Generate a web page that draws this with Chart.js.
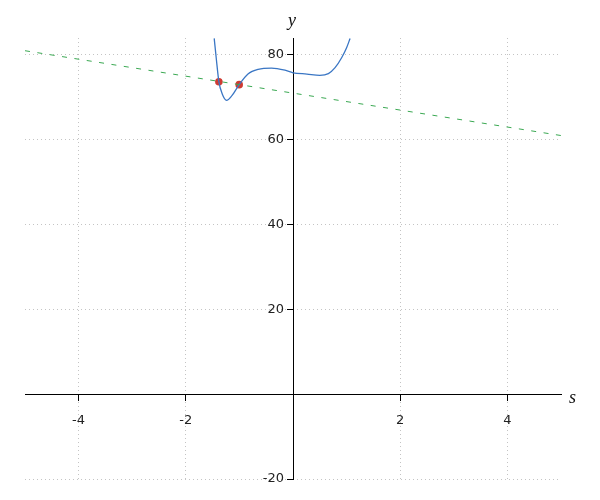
<!DOCTYPE html>
<html>
<head>
<meta charset="utf-8">
<script src="https://cdn.jsdelivr.net/npm/chart.js@4.4.0/dist/chart.umd.min.js"></script>
<style>
  body { margin: 0; background: #fff; }
  #wrap { position: relative; width: 600px; height: 500px; }
  .axis-title { position: absolute; font: italic 18px "Liberation Serif", serif; color: #111; line-height: 1; }
</style>
</head>
<body>
<div id="wrap">
  <canvas id="c" width="600" height="500"></canvas>
  <span class="axis-title" style="left:288px;top:11px">y</span>
  <span class="axis-title" style="left:569px;top:388px">s</span>
</div>
<script>
// curve
const curveS = [-1.47, -1.43, -1.383, -1.32, -1.24, -1.14, -1.004, -0.84, -0.65, -0.4, -0.15, 0.0, 0.26, 0.5, 0.66, 0.785, 0.91, 1.0, 1.065];
const curveY = [83.9, 79.0, 73.7, 70.8, 69.3, 70.4, 73.0, 75.5, 76.6, 76.9, 76.4, 75.8, 75.5, 75.2, 75.6, 77.0, 79.4, 81.7, 83.9];

// dashed straight line
const lineS = [-5, 5];
const lineY = [81, 61];

// intersection points
const pointS = [-1.383, -1.004];
const pointY = [73.7, 73.0];

const xTicks = [-4, -2, 2, 4];
const yTicks = [-20, 20, 40, 60, 80];

const zip = (xs, ys) => xs.map((x, i) => ({ x, y: ys[i] }));

const axisCommon = {
  type: 'linear',
  grid: { color: '#c4c4c4', lineWidth: 1, tickColor: '#000', tickLength: 6, tickWidth: 1 },
  border: { color: '#000', width: 1, dash: [1, 3] },
};

// chart.js leaves y labels on top of a centred axis; push them left of the tick marks
const shiftYLabels = {
  id: 'shiftYLabels',
  beforeDraw(chart) {
    const s = chart.scales.y;
    s.getLabelItems(chart.chartArea).forEach((it) => {
      if (!it._shifted) {
        it.options.translation[0] -= 9;
        it._shifted = true;
      }
    });
  },
};

new Chart(document.getElementById('c'), {
  type: 'scatter',
  data: {
    datasets: [
      {
        data: zip(lineS, lineY),
        showLine: true,
        borderColor: '#3aa852',
        borderWidth: 1,
        borderDash: [5, 7.5],
        pointRadius: 0,
      },
      {
        data: zip(curveS, curveY),
        showLine: true,
        borderColor: '#3a76c4',
        borderWidth: 1.3,
        cubicInterpolationMode: 'monotone',
        pointRadius: 0,
      },
      {
        data: zip(pointS, pointY),
        showLine: false,
        pointRadius: 3.8,
        pointBackgroundColor: '#cf3b32',
        pointBorderColor: '#cf3b32',
        pointBorderWidth: 0,
      },
    ],
  },
  options: {
    responsive: false,
    animation: false,
    layout: { padding: { left: 25, right: 39, top: 38, bottom: 21 } },
    plugins: { legend: { display: false }, tooltip: { enabled: false } },
    scales: {
      x: {
        ...axisCommon,
        min: -5,
        max: 5,
        position: { y: 0 },
        afterBuildTicks: (s) => { s.ticks = xTicks.map((v) => ({ value: v })); },
        ticks: { color: '#222', padding: 13, font: { family: 'DejaVu Sans', size: 13 } },
      },
      y: {
        ...axisCommon,
        min: -20,
        max: 84,
        position: { x: 0 },
        afterBuildTicks: (s) => { s.ticks = yTicks.map((v) => ({ value: v })); },
        ticks: { color: '#222', padding: 3, font: { family: 'DejaVu Sans', size: 13 } },
      },
    },
  },
  plugins: [shiftYLabels],
});
</script>
</body>
</html>
